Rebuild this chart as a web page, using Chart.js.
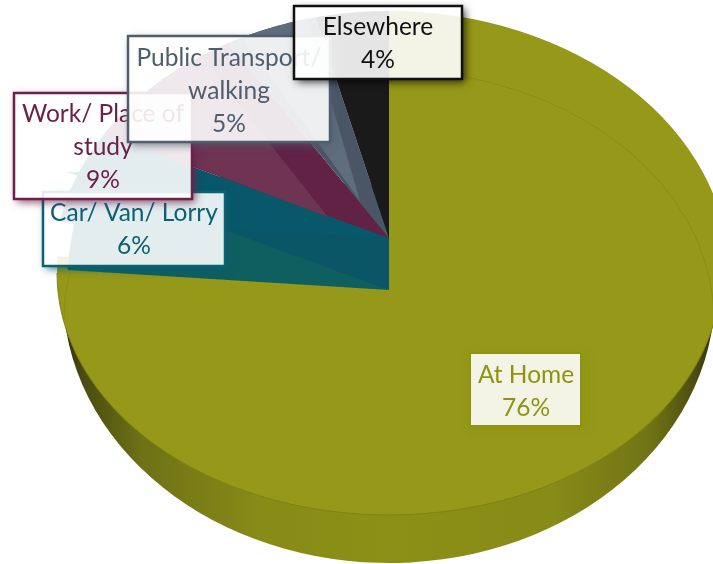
<!DOCTYPE html>
<html><head><meta charset="utf-8">
<style>html,body{margin:0;padding:0;background:#fff}canvas{display:block}</style>
<script src="https://cdn.jsdelivr.net/npm/chart.js@4"></script>
</head><body><canvas id="c" width="713" height="564"></canvas>
<script>
const categories = ['At Home','Car/ Van/ Lorry','Work/ Place of study','Public Transport/ walking','Elsewhere'];
const values = [76,6,9,5,4];
const labelLines = [['At Home'],['Car/ Van/ Lorry'],['Work/ Place of','study'],['Public Transport/','walking'],['Elsewhere']];
const sliceColors = ['#959818','#08576a','#612245','#4a5665','#1a1a1a'];
const labelColors = ['#8f9410','#0b6273','#6d2048','#4f5d6d','#111111'];

// label boxes, in paint order: [slice index, left, top, right, bottom, centre x, first line centre y, line step]
const boxes = [
  [0,470,353,581,426,526,375,33],
  [1,43,192,225,266,134,213,33],
  [2,14,93,192,199,103,114,33],
  [3,128,36,330,142,229,58,33],
  [4,294,6,462,79,378,27,33]
];

function withColor(arc, color, ctx){
  const saved = arc.options;
  arc.options = Object.assign(Object.create(saved), {backgroundColor: color});
  arc.draw(ctx);
  arc.options = saved;
}
function placed(ctx, arc, dx, dy, rx, ry, color){
  const R = arc.outerRadius;
  ctx.save();
  ctx.translate(arc.x+dx, arc.y+dy);
  ctx.scale(rx/R, ry/R);
  ctx.translate(-arc.x, -arc.y);
  withColor(arc, color, ctx);
  ctx.restore();
}
// wedge whose two straight edges are sent along the given directions
function wedge(ctx, arc, dx, dy, t1, t2, color){
  const R = arc.outerRadius;
  const a = arc.startAngle, b = arc.endAngle;
  const e1 = [Math.cos(b)*R, Math.sin(b)*R], e2 = [Math.cos(a)*R, Math.sin(a)*R];
  const d = e1[0]*e2[1]-e2[0]*e1[1];
  const m11 = (t1[0]*e2[1]-t2[0]*e1[1])/d, m12 = (-t1[0]*e2[0]+t2[0]*e1[0])/d;
  const m21 = (t1[1]*e2[1]-t2[1]*e1[1])/d, m22 = (-t1[1]*e2[0]+t2[1]*e1[0])/d;
  ctx.save();
  ctx.translate(arc.x+dx, arc.y+dy);
  ctx.transform(m11,m21,m12,m22,0,0);
  ctx.translate(-arc.x,-arc.y);
  withColor(arc, color, ctx);
  ctx.restore();
}

const pie3d = {
  id:'pie3d',
  beforeDatasetDraw(chart,args){
    const ctx = chart.ctx, arcs = args.meta.data;
    const [home,car,work,pub,other] = arcs;
    const cx = home.x, cy = home.y, R = home.outerRadius;

    // outer wall
    const g = ctx.createLinearGradient(cx-R,0,cx+R,0);
    [[0,'#2e2e0c'],[.03,'#4a4b10'],[.12,'#6e7115'],[.3,'#878b17'],[.5,'#8c9016'],[.75,'#878b17'],[.9,'#717415'],[.97,'#4c4d10'],[1,'#2e2e0c']]
      .forEach(s=>g.addColorStop(s[0],s[1]));
    placed(ctx,home,0,20,326,270,g);

    // top face: back right, back left and front have different extents
    ctx.save(); ctx.beginPath(); ctx.rect(cx,0,chart.width-cx,cy); ctx.clip();
    placed(ctx,home,0,0,340,262,sliceColors[0]);
    ctx.restore();
    ctx.save(); ctx.beginPath(); ctx.rect(0,0,cx,cy); ctx.clip();
    placed(ctx,home,0,0,332,262,sliceColors[0]);
    ctx.restore();
    ctx.save(); ctx.beginPath(); ctx.rect(0,cy,chart.width,chart.height-cy); ctx.clip();
    placed(ctx,home,0,0,332,242,sliceColors[0]);
    ctx.restore();

    // rim lines
    ctx.save();
    ctx.strokeStyle='#7f8212'; ctx.lineWidth=1;
    ctx.beginPath(); ctx.ellipse(cx,cy,332,242,0,0,Math.PI); ctx.stroke();
    ctx.strokeStyle='#8a8d14';
    ctx.beginPath(); ctx.ellipse(cx,cy+47,325,250,0,-1.34,0); ctx.stroke();
    ctx.beginPath(); ctx.ellipse(cx,cy+47,325,250,0,Math.PI,Math.PI+0.2); ctx.stroke();
    ctx.restore();

    // cut-away wedges
    placed(ctx,car,0,17,322,318,'#0f5e60');
    wedge(ctx,car,0,17,[-322,-118],[0,-104],'#0a5566');

    ctx.save();
    ctx.beginPath(); ctx.ellipse(cx,cy,336,262,0,0,Math.PI*2); ctx.clip();
    placed(ctx,car,0,-35,340,262,sliceColors[1]);
    placed(ctx,work,0,-35,340,262,sliceColors[2]);
    placed(ctx,work,-61,-56,300,240,'#6f3353');
    placed(ctx,pub,0,-35,340,262,sliceColors[3]);
    placed(ctx,pub,-29,-72,340,300,'#5f6d7d');
    placed(ctx,other,0,-35,340,262,sliceColors[4]);
    ctx.restore();

    return false;
  },
  afterDatasetsDraw(chart){
    const ctx = chart.ctx;
    boxes.forEach(([i,l,t,r,b,tx,ty,step])=>{
      const w=r-l,h=b-t;
      // shadow outside the box only
      ctx.save();
      ctx.beginPath(); ctx.rect(0,0,chart.width,chart.height); ctx.rect(l,t,w,h); ctx.clip('evenodd');
      ctx.shadowColor = i===4 ? 'rgba(0,0,0,.75)' : labelColors[i]+'cc';
      ctx.shadowBlur = 8; ctx.shadowOffsetX = 3; ctx.shadowOffsetY = 3;
      ctx.fillStyle = labelColors[i];
      ctx.fillRect(l,t,w,h);
      ctx.restore();
      // translucent face
      ctx.fillStyle='rgba(255,255,255,.89)';
      ctx.fillRect(l,t,w,h);
      ctx.strokeStyle=labelColors[i]; ctx.lineWidth = i===0?2:2.5;
      ctx.strokeRect(l,t,w,h);
      // text
      ctx.fillStyle=labelColors[i];
      ctx.font='24.5px Lato, sans-serif';
      ctx.textAlign='center'; ctx.textBaseline='middle';
      const lines = labelLines[i].concat([values[i]+'%']);
      lines.forEach((s,k)=>ctx.fillText(s,tx,ty+k*step));
    });
  }
};

new Chart(document.getElementById('c'),{
  type:'pie',
  data:{labels:categories,datasets:[{data:values,backgroundColor:sliceColors,borderWidth:0}]},
  options:{
    responsive:false,animation:false,
    layout:{padding:{left:65,right:0,top:0,bottom:18}},
    plugins:{legend:{display:false},tooltip:{enabled:false}}
  },
  plugins:[pie3d]
});
</script></body></html>
